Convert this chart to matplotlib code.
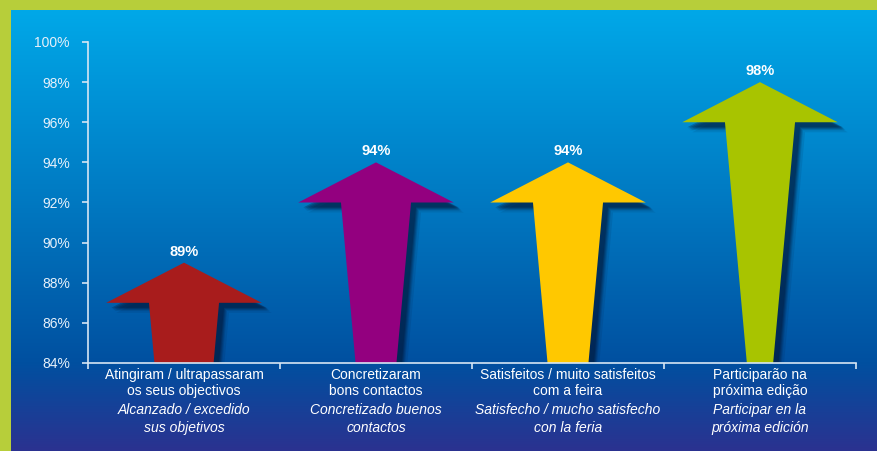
import numpy as np
import matplotlib.pyplot as plt
import matplotlib.transforms as mtransforms
from matplotlib.patches import Polygon
from matplotlib.colors import LinearSegmentedColormap

# Data
labels_pt = [("Atingiram / ultrapassaram", "os seus objectivos"),
             ("Concretizaram", "bons contactos"),
             ("Satisfeitos / muito satisfeitos", "com a feira"),
             ("Participarão na", "próxima edição")]
labels_es = [("Alcanzado / excedido", "sus objetivos"),
             ("Concretizado buenos", "contactos"),
             ("Satisfecho / mucho satisfecho", "con la feria"),
             ("Participar en la", "próxima edición")]
values = [89, 94, 94, 98]
colors = ["#A81C1C", "#93007F", "#FFC800", "#A8C400"]
yticks = [84, 86, 88, 90, 92, 94, 96, 98, 100]

plt.rcParams['font.family'] = ['Liberation Sans', 'DejaVu Sans']

W, H = 878, 451
fig = plt.figure(figsize=(W / 100, H / 100), dpi=100)
fig.patch.set_facecolor("#B7CE3A")

# gradient background
bg = fig.add_axes([11 / W, 0, 1 - 11 / W, 1 - 10 / H])
cmap = LinearSegmentedColormap.from_list(
    "bg", [(0, "#00A8E8"), (0.45, "#0077C0"), (0.8, "#0050A0"), (1, "#2B3290")])
grad = np.linspace(0, 1, 256).reshape(-1, 1)
bg.imshow(grad, aspect="auto", cmap=cmap, extent=[0, 1, 0, 1], origin="upper")
bg.set_axis_off()

ax = fig.add_axes([88 / W, (H - 363) / H, (856 - 88) / W, (363 - 42) / H])
ax.set_facecolor("none")
ax.set_xlim(0, 4)
ax.set_ylim(84, 100)

head_h = 2.0
head_w = 0.81
shaft_w = 0.365
taper = 0.019  # shaft narrowing per 1% down

for i, (v, c) in enumerate(zip(values, colors)):
    cx = i + 0.5
    base = v - head_h
    wb = shaft_w - taper * (base - 84)
    pts = [(cx, v), (cx + head_w / 2, base), (cx + shaft_w / 2, base),
           (cx + wb / 2, 84), (cx - wb / 2, 84), (cx - shaft_w / 2, base),
           (cx - head_w / 2, base)]
    # soft shadow
    for k, a in [(10, 0.1), (8, 0.15), (7, 0.2), (6, 0.25), (5, 0.3)]:
        tr = mtransforms.offset_copy(ax.transData, fig=fig, x=k * 0.72, y=-k * 0.72, units="points")
        ax.add_patch(Polygon(pts, closed=True, facecolor="#001535", alpha=a,
                             edgecolor="none", transform=tr, clip_on=True, zorder=2))
    ax.add_patch(Polygon(pts, closed=True, facecolor=c, edgecolor="none", zorder=3))
    ax.annotate(f"{v}%", (cx, v), xytext=(0, 3), textcoords="offset points",
                ha="center", va="bottom", color="white", fontsize=10.5,
                fontweight="bold", zorder=4)

for side in ["top", "right"]:
    ax.spines[side].set_visible(False)
for side in ["left", "bottom"]:
    ax.spines[side].set_color("#D6E6F4")
    ax.spines[side].set_linewidth(1.2)
    ax.spines[side].set_zorder(5)

ax.set_yticks(yticks)
ax.set_yticklabels([f"{t}%" for t in yticks])
ax.set_xticks([0, 1, 2, 3, 4])
ax.set_xticklabels([])
ax.tick_params(axis="both", colors="#D6E6F4", labelcolor="#E6F0FA",
               labelsize=10, length=4, width=1.2, direction="out")
ax.tick_params(axis="y", pad=9)

for i in range(4):
    cx = i + 0.5
    lines = [(labels_pt[i][0], "normal", 8.5), (labels_pt[i][1], "normal", 20.5),
             (labels_es[i][0], "italic", 33.5), (labels_es[i][1], "italic", 47)]
    for txt, style, off in lines:
        ax.annotate(txt, (cx, 0), xycoords=("data", "axes fraction"),
                    xytext=(0, -off), textcoords="offset points",
                    ha="center", va="center", color="white", fontsize=10,
                    fontstyle=style, annotation_clip=False)

fig.savefig("out.png", dpi=100, facecolor=fig.get_facecolor())
